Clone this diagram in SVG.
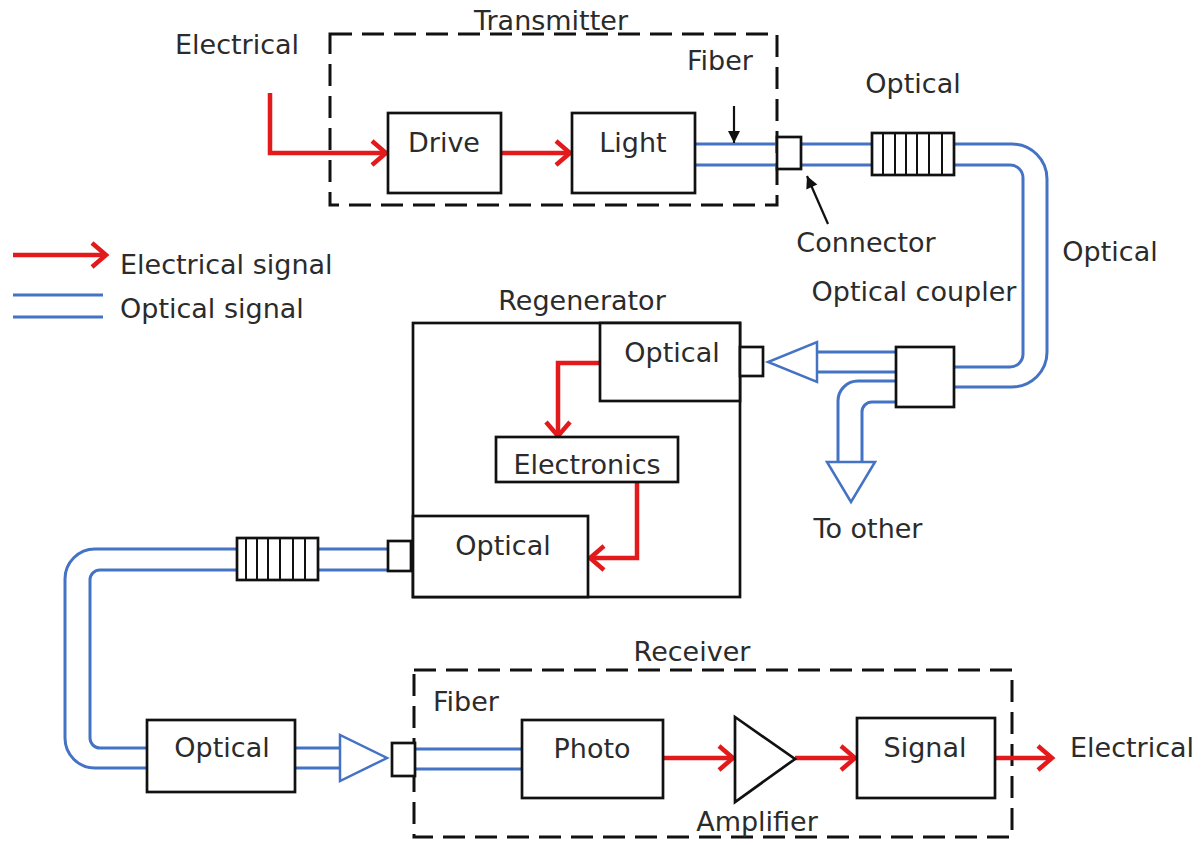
<svg xmlns="http://www.w3.org/2000/svg" width="1202" height="845" viewBox="0 0 1202 845">
<style>
text{font-family:"DejaVu Sans","Liberation Sans",sans-serif;font-size:27px;fill:#2b2b2b}
.box{fill:#fff;stroke:#111;stroke-width:2.7}
.dash{fill:none;stroke:#111;stroke-width:3;stroke-dasharray:22 10}
.fib{fill:none;stroke:#4472C4;stroke-width:3}
.tri{fill:#fff;stroke:#4472C4;stroke-width:2.5;stroke-linejoin:miter}
.el{fill:none;stroke:#e31a1c;stroke-width:4.5;marker-end:url(#ah)}
.hatch{stroke:#111;stroke-width:2}
.blk{fill:none;stroke:#111;stroke-width:2.2;marker-end:url(#bh)}
</style>
<defs>
<marker id="ah" markerUnits="userSpaceOnUse" markerWidth="30" markerHeight="30" refX="16" refY="12" orient="auto" overflow="visible">
<path d="M2,0 L16,12 L2,24" fill="none" stroke="#e31a1c" stroke-width="4.5"/>
</marker>
<marker id="bh" markerUnits="userSpaceOnUse" markerWidth="16" markerHeight="16" refX="12" refY="6" orient="auto" overflow="visible">
<path d="M0,0 L12,6 L0,12 Z" fill="#111"/>
</marker>
</defs>

<!-- group boxes -->
<g id="transmitter">
<rect class="dash" x="330" y="34" width="447" height="171"/>
<text x="551" y="30" text-anchor="middle">Transmitter</text>
</g>
<g id="receiver">
<rect class="dash" x="414" y="670" width="598" height="167"/>
<text x="692" y="661" text-anchor="middle">Receiver</text>
</g>
<g id="regenerator">
<rect class="box" x="413" y="323" width="327" height="274"/>
<text x="582" y="310" text-anchor="middle">Regenerator</text>
</g>

<!-- connectors -->
<g id="connectors">
<!-- electrical -->
<path class="el" d="M270,93 L270,153 L386,153"/>
<path class="el" d="M501,153 L570,153"/>
<path class="el" d="M600,363 L558,363 L558,436"/>
<path class="el" d="M637,482 L637,558 L590,558"/>
<path class="el" d="M663,758 L733,758"/>
<path class="el" d="M795,758 L855,758"/>
<path class="el" d="M995,758 L1052,758"/>
<path class="el" d="M13,255 L106,255"/>
<!-- optical fibers -->
<path class="fib" d="M695,144 L777,144 M801,144 L872,144 M954,144 L1012,144 A35,35 0 0 1 1047,179 L1047,352 A35,35 0 0 1 1012,387 L954,387"/>
<path class="fib" d="M695,165 L777,165 M801,165 L872,165 M954,165 L1010,165 A13,13 0 0 1 1023,178 L1023,354 A13,13 0 0 1 1010,367 L954,367"/>
<path class="fib" d="M895,352 L817,352 M895,372 L817,372"/>
<path class="tri" d="M817,342 L817,382 L768,362 Z"/>
<path class="fib" d="M895,381 L858,381 A20,20 0 0 0 838,401 L838,462"/>
<path class="fib" d="M895,402 L872,402 A10,10 0 0 0 862,412 L862,462"/>
<path class="tri" d="M827,462 L875,462 L851,502 Z"/>
<path class="fib" d="M388,549 L318,549 M237,549 L95,549 A30,30 0 0 0 65,579 L65,738 A30,30 0 0 0 95,768 L147,768"/>
<path class="fib" d="M388,570 L318,570 M237,570 L100,570 A10,10 0 0 0 90,580 L90,738 A10,10 0 0 0 100,748 L147,748"/>
<path class="fib" d="M295,748 L340,748 M295,768 L340,768"/>
<path class="tri" d="M340,735 L340,781 L387,758 Z"/>
<path class="fib" d="M415,749 L522,749 M415,769 L522,769"/>
<path class="fib" d="M13,295 L103,295 M13,317 L103,317"/>
<!-- pointer arrows -->
<path class="blk" d="M734,106 L734,143"/>
<path class="blk" d="M828,224 L807,176"/>
</g>

<!-- nodes -->
<g id="drive"><rect class="box" x="388" y="113" width="113" height="80"/><text x="444" y="152" text-anchor="middle">Drive</text></g>
<g id="light"><rect class="box" x="572" y="113" width="123" height="80"/><text x="633" y="152" text-anchor="middle">Light</text></g>
<g id="connector-tx"><rect class="box" x="777" y="137" width="24" height="32"/></g>
<g id="splice-top">
<rect class="box" x="872" y="133" width="82" height="42"/>
<path class="hatch" d="M883,133V175M895,133V175M906,133V175M917,133V175M929,133V175M942,133V175"/>
</g>
<g id="coupler"><rect class="box" x="896" y="347" width="58" height="60"/></g>
<g id="regen-optical-in"><rect class="box" x="600" y="323" width="140" height="78"/><text x="672" y="362" text-anchor="middle">Optical</text></g>
<g id="regen-connector-in"><rect class="box" x="740" y="347" width="23" height="29"/></g>
<g id="electronics"><rect class="box" x="496" y="437" width="182" height="45"/><text x="587" y="474" text-anchor="middle">Electronics</text></g>
<g id="regen-optical-out"><rect class="box" x="413" y="516" width="175" height="81"/><text x="503" y="555" text-anchor="middle">Optical</text></g>
<g id="regen-connector-out"><rect class="box" x="388" y="541" width="23" height="30"/></g>
<g id="splice-bottom">
<rect class="box" x="237" y="538" width="81" height="42"/>
<path class="hatch" d="M246,538V580M257,538V580M268,538V580M280,538V580M293,538V580M305,538V580"/>
</g>
<g id="optical-bottom"><rect class="box" x="147" y="720" width="148" height="72"/><text x="222" y="757" text-anchor="middle">Optical</text></g>
<g id="connector-rx"><rect class="box" x="392" y="743" width="23" height="33"/></g>
<g id="photo"><rect class="box" x="522" y="720" width="141" height="78"/><text x="592" y="758" text-anchor="middle">Photo</text></g>
<g id="amplifier"><path class="box" d="M735,717 L735,802 L795,759 Z"/><text x="757" y="831" text-anchor="middle">Amplifier</text></g>
<g id="signal"><rect class="box" x="857" y="718" width="138" height="80"/><text x="925" y="757" text-anchor="middle">Signal</text></g>

<!-- labels -->
<g id="labels">
<text x="175" y="54">Electrical</text>
<text x="720" y="70" text-anchor="middle">Fiber</text>
<text x="913" y="93" text-anchor="middle">Optical</text>
<text x="866" y="252" text-anchor="middle">Connector</text>
<text x="1110" y="261" text-anchor="middle">Optical</text>
<text x="914" y="301" text-anchor="middle">Optical coupler</text>
<text x="120" y="274">Electrical signal</text>
<text x="120" y="318">Optical signal</text>
<text x="868" y="538" text-anchor="middle">To other</text>
<text x="466" y="711" text-anchor="middle">Fiber</text>
<text x="1070" y="757">Electrical</text>
</g>
</svg>
